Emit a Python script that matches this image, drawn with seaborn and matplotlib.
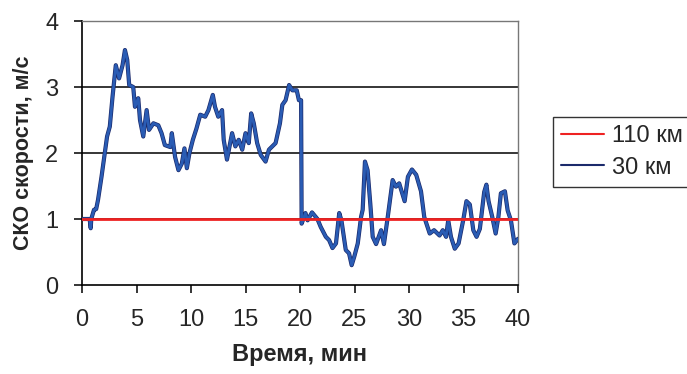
import numpy as np
import pandas as pd
import seaborn as sns
import matplotlib.pyplot as plt
import matplotlib.patheffects as pe
from matplotlib.lines import Line2D

# time, minutes
time_30 = [0, 0.7, 0.8, 0.85, 1.1, 1.3, 1.47, 1.79, 2.09, 2.3, 2.55, 2.8, 3.1, 3.4, 3.72, 3.94,
           4.15, 4.33, 4.7, 4.86, 5.16, 5.32, 5.62, 5.93, 6.15, 6.55, 7.0, 7.3, 7.6, 8.1, 8.24,
           8.54, 8.85, 9.16, 9.4, 9.62, 9.86, 10.17, 10.5, 10.85, 11.3, 11.6, 12.0, 12.2, 12.5,
           12.85, 13.0, 13.3, 13.77, 14.07, 14.38, 14.7, 15.0, 15.3, 15.52, 15.76, 16.07, 16.4,
           16.84, 17.15, 17.45, 17.76, 18.16, 18.38, 18.68, 19.0, 19.3, 19.7, 19.9, 20.1, 20.15,
           20.5, 20.7, 21.1, 21.6, 21.9, 22.37, 22.67, 22.98, 23.3, 23.6, 23.8, 24.2, 24.5, 24.74,
           24.98, 25.3, 25.6, 25.75, 25.96, 26.2, 26.45, 26.67, 26.98, 27.44, 27.7, 28.05, 28.5,
           28.8, 29.1, 29.6, 29.9, 30.27, 30.66, 31.1, 31.4, 31.9, 32.3, 32.8, 33.1, 33.4, 33.6,
           33.85, 34.2, 34.55, 34.97, 35.27, 35.58, 35.9, 36.2, 36.5, 36.9, 37.1, 37.3, 37.64,
           37.95, 38.2, 38.43, 38.8, 39.05, 39.35, 39.67, 40.0]
# SKO of speed at 30 km, m/s
sko_30 = [1.0, 1.0, 0.86, 1.0, 1.14, 1.15, 1.29, 1.64, 2.0, 2.25, 2.40, 2.85, 3.33, 3.13, 3.33, 3.56,
          3.41, 3.03, 3.0, 2.70, 2.83, 2.5, 2.25, 2.65, 2.35, 2.45, 2.42, 2.30, 2.12, 2.09, 2.3,
          1.94, 1.74, 1.84, 2.07, 1.77, 2.0, 2.2, 2.37, 2.58, 2.55, 2.65, 2.88, 2.70, 2.55,
          2.65, 2.2, 1.9, 2.3, 2.1, 2.2, 2.05, 2.3, 2.15, 2.6, 2.45, 2.15, 1.97,
          1.87, 2.05, 2.1, 2.15, 2.45, 2.73, 2.8, 3.03, 2.95, 2.95, 2.8, 2.8, 0.93,
          1.09, 0.98, 1.10, 1.0, 0.88, 0.73, 0.68, 0.56, 0.63, 1.09, 0.98, 0.53, 0.48, 0.30,
          0.43, 0.63, 1.03, 1.14, 1.87, 1.74, 1.23, 0.73, 0.62, 0.83, 0.62, 1.03, 1.59,
          1.49, 1.54, 1.27, 1.64, 1.75, 1.67, 1.42, 1.03, 0.78, 0.83, 0.75, 0.83, 0.73, 0.98,
          0.73, 0.55, 0.63, 0.98, 1.27, 1.22, 0.83, 0.73, 0.85, 1.41, 1.52, 1.27, 1.03,
          0.78, 1.03, 1.39, 1.42, 1.13, 0.98, 0.63, 0.7]
assert len(time_30) == len(sko_30)

# 110 km series is flat
time_110 = [0, 40]
sko_110 = [1.0, 1.0]

x_ticks = [0, 5, 10, 15, 20, 25, 30, 35, 40]
y_ticks = [0, 1, 2, 3, 4]

df30 = pd.DataFrame({"t": time_30, "sko": sko_30})
df110 = pd.DataFrame({"t": time_110, "sko": sko_110})

sns.set_style("white")
plt.rcParams['font.family'] = ['Liberation Sans', 'DejaVu Sans']

fig = plt.figure(figsize=(6.87, 3.74), dpi=100)
ax = fig.add_axes([82 / 687, 1 - 285 / 374, (518 - 82) / 687, (285 - 21) / 374])

for g in y_ticks[1:-1]:
    ax.axhline(g, color='black', lw=1.1, zorder=1)

sns.lineplot(data=df30, x="t", y="sko", ax=ax, color="#2a5cb4", lw=2.0,
             estimator=None, sort=False, zorder=3,
             path_effects=[pe.Stroke(linewidth=3.0, foreground="#1b2a6b"), pe.Normal()])
sns.lineplot(data=df110, x="t", y="sko", ax=ax, color="#ee2222", lw=2.0,
             estimator=None, zorder=4)

ax.set_xlim(0, 40)
ax.set_ylim(0, 4)
ax.set_xticks(x_ticks)
ax.set_yticks(y_ticks)
ax.tick_params(axis='both', direction='out', length=6, width=1.1, color='black',
               labelsize=17, left=True, bottom=True)
ax.tick_params(axis='x', pad=11)
ax.tick_params(axis='y', pad=11)

for s in ['left', 'bottom']:
    ax.spines[s].set_color('black')
    ax.spines[s].set_linewidth(1.2)
for s in ['top', 'right']:
    ax.spines[s].set_color('#777777')
    ax.spines[s].set_linewidth(1.0)

ax.set_xlabel("Время, мин", fontsize=17, fontweight='bold', labelpad=9)
ax.set_ylabel("СКО скорости, м/с", fontsize=15.5, fontweight='bold', labelpad=8)

handles = [Line2D([], [], color="#ee2222", lw=1.5),
           Line2D([], [], color="#1b2a6b", lw=1.5)]
leg = fig.legend(handles, ["110 км", "30 км"], loc='upper left',
                 bbox_to_anchor=(553 / 687, 1 - 117 / 374), fontsize=17,
                 frameon=True, fancybox=False, borderaxespad=0, borderpad=0.35,
                 handlelength=1.8, handletextpad=0.35, labelspacing=0.4)
leg.get_frame().set_edgecolor('black')
leg.get_frame().set_linewidth(1.0)

fig.savefig("out.png", dpi=100)
